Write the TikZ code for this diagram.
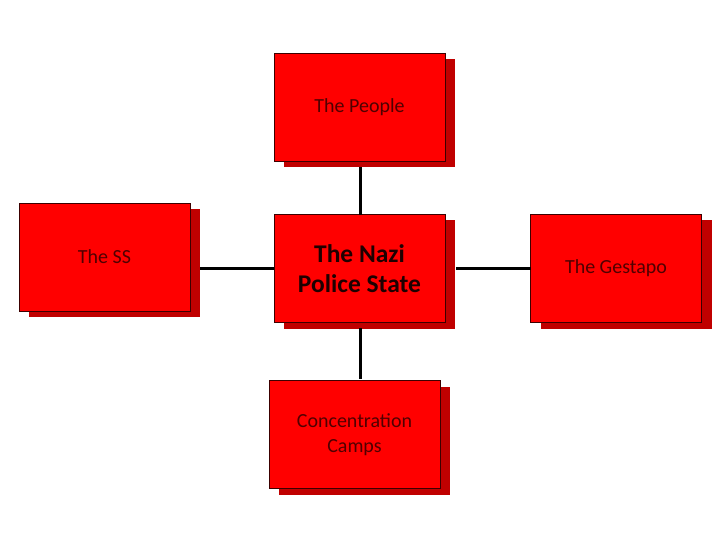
\documentclass[tikz,border=0pt]{standalone}
\usepackage{fontspec}
\setmainfont{Carlito}
\begin{document}
\begin{tikzpicture}[x=1pt,y=-1pt,
  box/.style={draw={rgb,255:red,60;green,0;blue,0}, line width=0.8pt, fill={rgb,255:red,255;green,0;blue,0},
    minimum width=171pt, minimum height=108pt, inner sep=0pt, align=center,
    text={rgb,255:red,80;green,0;blue,0}, font=\fontsize{20}{25}\selectfont},
  shadowbox/.style={fill={rgb,255:red,192;green,0;blue,0}, minimum width=171pt, minimum height=108pt, inner sep=0pt},
  link/.style={line width=3pt, black}]
\useasboundingbox (0,0) rectangle (720,540);
% shadows
\node[shadowbox] at (369.5,113) {};
\node[shadowbox] at (114.5,263) {};
\node[shadowbox] at (369.5,274.5) {};
\node[shadowbox] at (626,274.5) {};
\node[shadowbox] at (364.5,440.5) {};
% boxes
\node[box] (people) at (359.5,107) {The People};
\node[box] (ss) at (104.5,257) {The SS};
\node[box, text={rgb,255:red,30;green,0;blue,0}, font=\fontsize{25.5}{29.5}\selectfont\bfseries] (nazi) at (359.5,268.5) {The Nazi\\Police State};
\node[box] (gestapo) at (616,268.5) {The Gestapo};
\node[box] (camps) at (354.5,434.5) {Concentration\\Camps};
% connectors
\coordinate (pb) at (360,167);
\coordinate (nt) at (360,215);
\coordinate (nb) at (360,328);
\coordinate (ct) at (360,379);
\coordinate (ssr) at (200,268);
\coordinate (nl) at (274,268);
\coordinate (nr) at (456,268);
\coordinate (gl) at (531,268);
\draw[link] (pb) -- (nt);
\draw[link] (nb) -- (ct);
\draw[link] (ssr) -- (nl);
\draw[link] (nr) -- (gl);
\end{tikzpicture}
\end{document}
